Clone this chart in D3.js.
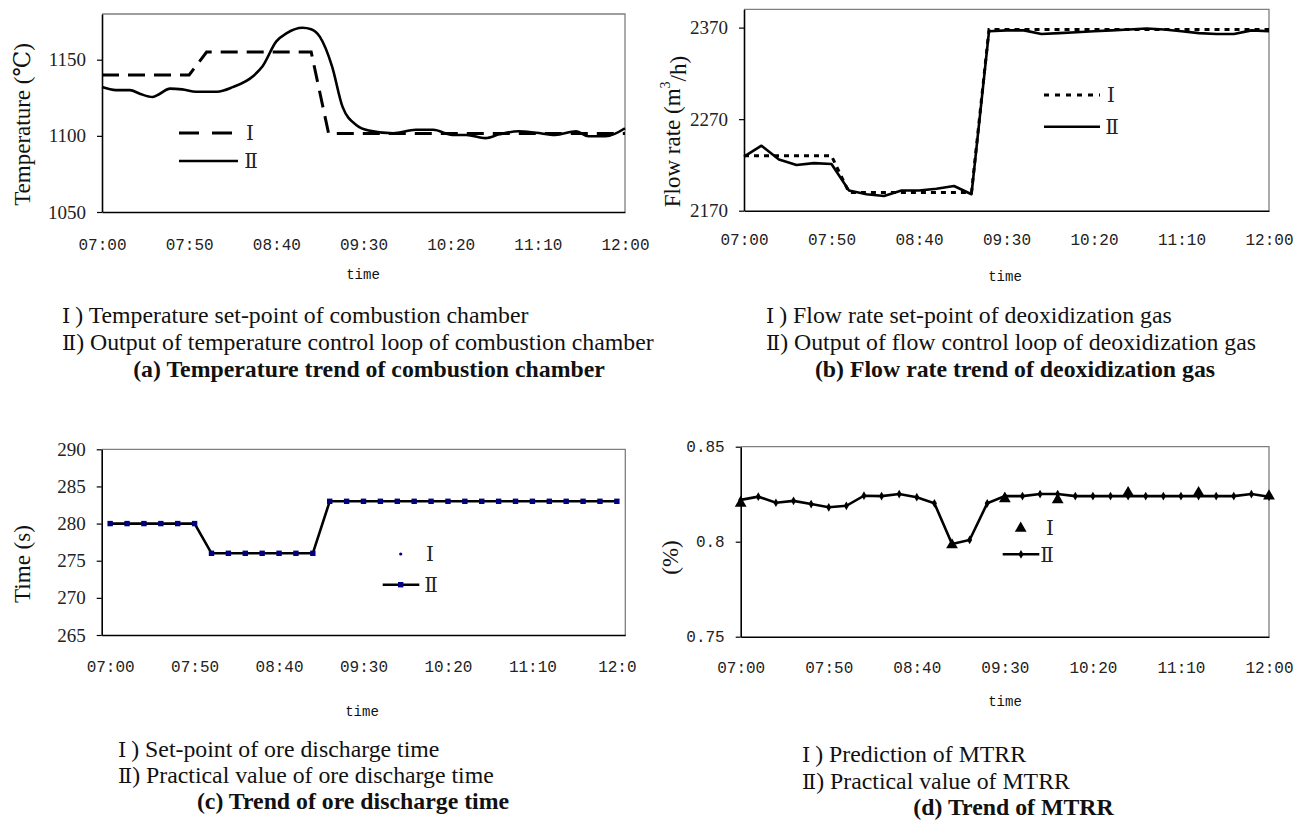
<!DOCTYPE html>
<html><head><meta charset="utf-8">
<script src="https://cdn.jsdelivr.net/npm/d3@7"></script>
<style>body{margin:0;background:#fff}svg{display:block}</style>
</head><body>
<svg id="c" width="1296" height="820"></svg>
<script>
// ---------------- DATA ----------------
// (a) temperature of combustion chamber
const tempOutTimes  = ["07:00","07:08","07:16","07:22","07:29","07:33","07:39","07:46","07:54","08:06","08:15","08:27","08:32","08:40","08:46","08:55","09:00","09:05","09:12","09:18","09:26","09:33","09:47","10:00","10:10","10:21","10:29","10:40","10:48","10:59","11:09","11:20","11:32","11:39","11:49","12:00"];
const tempOutValues = [1132,1130,1130,1127.5,1125.5,1127.5,1131,1130.5,1129,1129,1132,1139.5,1145.5,1162,1167.5,1171,1170,1165,1145.5,1119,1107,1103.5,1101.7,1104,1104,1100.6,1100.6,1098.5,1101,1103,1102,1100.6,1103,1099.7,1099.7,1105];
const tempSetTimes  = ["07:00","07:50","08:00","09:00","09:10","12:00"];
const tempSetValues = [1140,1140,1155,1155,1101.5,1101.5];
const tempTicks = [1050,1100,1150];

// (b) flow rate of deoxidization gas
const flowTimes = ["07:00","07:10","07:20","07:30","07:40","07:50","08:00","08:10","08:20","08:30","08:40","08:50","09:00","09:10","09:20","09:30","09:40","09:50","10:00","10:10","10:20","10:30","10:40","10:50","11:00","11:10","11:20","11:30","11:40","11:50","12:00"];
const flowOutValues = [2229,2241,2226,2220,2222,2221,2192,2188,2186,2192,2192,2194,2197,2188,2366,2367,2367,2363,2364,2365,2366,2367,2368,2369,2368,2366,2364,2363,2363,2367,2366];
const flowSetValues = [2230,2230,2230,2230,2230,2230,2190,2190,2190,2190,2190,2190,2190,2190,2368,2368,2368,2368,2368,2368,2368,2368,2368,2368,2368,2368,2368,2368,2368,2368,2368];
const flowTicks = [2170,2270,2370];

// (c) ore discharge time
const oreTimes = ["07:00","07:10","07:20","07:30","07:40","07:50","08:00","08:10","08:20","08:30","08:40","08:50","09:00","09:10","09:20","09:30","09:40","09:50","10:00","10:10","10:20","10:30","10:40","10:50","11:00","11:10","11:20","11:30","11:40","11:50","12:00"];
const oreSetValues  = [280,280,280,280,280,280,276,276,276,276,276,276,276,283,283,283,283,283,283,283,283,283,283,283,283,283,283,283,283,283,283];
const orePracValues = [280,280,280,280,280,280,276,276,276,276,276,276,276,283,283,283,283,283,283,283,283,283,283,283,283,283,283,283,283,283,283];
const oreTicks = [265,270,275,280,285,290];

// (d) MTRR
const mtrrTimes = oreTimes;
const mtrrPracValues = [0.822,0.8237,0.8205,0.8215,0.8198,0.8181,0.8189,0.8242,0.824,0.8251,0.8234,0.8202,0.7988,0.8009,0.8202,0.824,0.824,0.8251,0.8251,0.824,0.824,0.824,0.824,0.824,0.824,0.824,0.824,0.824,0.824,0.8251,0.8237];
const mtrrPredValues = [0.8202,null,null,null,null,null,null,null,null,null,null,null,0.7983,null,null,0.8226,null,null,0.822,null,null,null,0.8258,null,null,null,0.8258,null,null,null,0.824];
const mtrrTicks = [0.75,0.8,0.85];
const mtrrTickLabels = ["0.75","0.8","0.85"];

// x tick labels
const xTickLabels  = ["07:00","07:50","08:40","09:30","10:20","11:10","12:00"];
const xTickLabelsC = ["07:00","07:50","08:40","09:30","10:20","11:10","12:0"];

// ---------------- DRAWING ----------------
const svg = d3.select("#c");
const serif = "'Liberation Serif','DejaVu Serif',serif";
const mono  = "'Liberation Mono','DejaVu Sans Mono',monospace";
const numFont = "'DejaVu Serif',serif";
const tp = d3.timeParse("%H:%M");
const CAP = 23.8;
const TITLE = 23;

function frame(x0,x1,yTop,yBot){
  svg.append("path").attr("d",`M${x0},${yTop}H${x1}V${yBot}`)
    .attr("fill","none").attr("stroke","#7f7f7f").attr("stroke-width",1.3);
}
function leftAxis(y,x0,ticks,fmt,font,size){
  const g = svg.append("g").attr("transform",`translate(${x0},0)`)
    .call(d3.axisLeft(y).tickValues(ticks).tickSize(5).tickSizeOuter(0).tickPadding(11).tickFormat(fmt));
  g.select(".domain").attr("stroke","#000").attr("stroke-width",1.6);
  g.selectAll(".tick line").attr("stroke","#000").attr("stroke-width",1.2);
  g.selectAll("text").attr("font-family",font).attr("font-size",size).attr("fill","#222");
  return g;
}
function bottomAxis(x,yBot,ticks,fmt,pad){
  const g = svg.append("g").attr("transform",`translate(0,${yBot})`)
    .call(d3.axisBottom(x).tickValues(ticks).tickSize(0).tickSizeOuter(0).tickPadding(pad).tickFormat(fmt));
  g.select(".domain").attr("stroke","#000").attr("stroke-width",1.6);
  g.selectAll("text").attr("font-family",mono).attr("font-size",16).attr("fill","#222");
  return g;
}
function text(x,y,s,opt={}){
  const t = svg.append("text").attr("x",x).attr("y",y).text(s)
    .attr("font-family",opt.font||serif).attr("font-size",opt.size||19)
    .attr("fill",opt.fill||"#111").attr("text-anchor",opt.anchor||"start");
  if(opt.bold) t.attr("font-weight","bold");
  if(opt.rotate) t.attr("transform",`rotate(-90,${x},${y})`);
  return t;
}
function capLine(x,y,num,rest,gap){
  const t = svg.append("text").attr("x",x).attr("y",y)
    .attr("font-family",serif).attr("font-size",CAP).attr("fill","#111");
  t.append("tspan").attr("font-family",numFont).attr("font-size",CAP-3).text(num);
  t.append("tspan").attr("dx",gap).text(") "+rest);
}
function legendNum(x,y,s){ return text(x,y,s,{anchor:"middle",size:20,font:numFont,fill:"#222"}); }

// ===== (a) =====
{
  const x = d3.scaleTime().domain([tp("07:00"),tp("12:00")]).range([102,625]);
  const y = d3.scaleLinear().domain([1050,1180]).range([212,14]);
  frame(102,625,14,212);
  leftAxis(y,102,tempTicks,d3.format("d"),serif,19);
  bottomAxis(x,212,xTickLabels.map(tp),(d,i)=>xTickLabels[i],27);
  const setLine = d3.line().x((d,i)=>x(tp(tempSetTimes[i]))).y(d=>y(d));
  svg.append("path").datum(tempSetValues).attr("d",setLine).attr("fill","none")
    .attr("stroke","#000").attr("stroke-width",3).attr("stroke-dasharray","17,9");
  const outLine = d3.line().x((d,i)=>x(tp(tempOutTimes[i]))).y(d=>y(d)).curve(d3.curveMonotoneX);
  svg.append("path").datum(tempOutValues).attr("d",outLine).attr("fill","none")
    .attr("stroke","#000").attr("stroke-width",2.6);
  svg.append("line").attr("x1",179).attr("x2",233).attr("y1",133).attr("y2",133)
    .attr("stroke","#000").attr("stroke-width",3).attr("stroke-dasharray","20,13");
  legendNum(250,140,"Ⅰ");
  svg.append("line").attr("x1",179).attr("x2",238).attr("y1",161).attr("y2",161)
    .attr("stroke","#000").attr("stroke-width",2.6);
  legendNum(251,168,"Ⅱ");
  text(22,124.5,"Temperature (℃)",{anchor:"middle",rotate:true,size:TITLE}).attr("dy","0.35em");
  text(363,279,"time",{font:mono,size:14,anchor:"middle"});
  capLine(62,323,"Ⅰ","Temperature set-point of combustion chamber",5);
  capLine(62,350,"Ⅱ","Output of temperature control loop of combustion chamber",0);
  text(369,377,"(a) Temperature trend of combustion chamber",{size:CAP,bold:true,anchor:"middle"});
}

// ===== (b) =====
{
  const x = d3.scaleTime().domain([tp("07:00"),tp("12:00")]).range([744,1269]);
  const y = d3.scaleLinear().domain([2170,2390]).range([210.7,9.3]);
  frame(744,1269,9.3,210.7);
  leftAxis(y,744,flowTicks,d3.format("d"),serif,19);
  bottomAxis(x,210.7,xTickLabels.map(tp),(d,i)=>xTickLabels[i],23);
  const setLine = d3.line().x((d,i)=>x(tp(flowTimes[i]))).y(d=>y(d));
  svg.append("path").datum(flowSetValues).attr("d",setLine).attr("fill","none")
    .attr("stroke","#000").attr("stroke-width",3).attr("stroke-dasharray","5,5");
  const outLine = d3.line().x((d,i)=>x(tp(flowTimes[i]))).y(d=>y(d));
  svg.append("path").datum(flowOutValues).attr("d",outLine).attr("fill","none")
    .attr("stroke","#000").attr("stroke-width",2.6).attr("stroke-linejoin","round");
  svg.append("line").attr("x1",1044).attr("x2",1100).attr("y1",95).attr("y2",95)
    .attr("stroke","#000").attr("stroke-width",3).attr("stroke-dasharray","5,6");
  legendNum(1111,102,"Ⅰ");
  svg.append("line").attr("x1",1044).attr("x2",1100).attr("y1",126.7).attr("y2",126.7)
    .attr("stroke","#000").attr("stroke-width",2.6);
  legendNum(1112,134,"Ⅱ");
  const lab = text(672,131.5,"Flow rate (m",{anchor:"middle",rotate:true,size:TITLE}).attr("dy","0.35em");
  lab.append("tspan").attr("font-size",14).attr("dy","-0.7em").text("3");
  lab.append("tspan").attr("dy","0.7em").text("/h)");
  text(1005,281,"time",{font:mono,size:14,anchor:"middle"});
  capLine(766,323,"Ⅰ","Flow rate set-point of deoxidization gas",5);
  capLine(766,350,"Ⅱ","Output of flow control loop of deoxidization gas",0);
  text(1015,377,"(b) Flow rate trend of deoxidization gas",{size:CAP,bold:true,anchor:"middle"});
}

// ===== (c) =====
{
  const x = d3.scalePoint().domain(oreTimes).range([101.7,625.3]).padding(0.5);
  const y = d3.scaleLinear().domain([265,290]).range([635,449.3]);
  frame(101.7,625.3,449.3,635);
  leftAxis(y,101.7,oreTicks,d3.format("d"),serif,19);
  bottomAxis(x,635,xTickLabels,(d,i)=>xTickLabelsC[i],25.7);
  const line = d3.line().x((d,i)=>x(oreTimes[i])).y(d=>y(d));
  svg.append("path").datum(orePracValues).attr("d",line).attr("fill","none")
    .attr("stroke","#000").attr("stroke-width",2.6);
  svg.append("g").selectAll("rect").data(orePracValues).join("rect")
    .attr("x",(d,i)=>x(oreTimes[i])-2.7).attr("y",d=>y(d)-2.7).attr("width",5.4).attr("height",5.4)
    .attr("fill","#000080");
  svg.append("g").selectAll("circle").data(oreSetValues).join("circle")
    .attr("cx",(d,i)=>x(oreTimes[i])).attr("cy",d=>y(d)).attr("r",1.4).attr("fill","#000080");
  svg.append("circle").attr("cx",400.7).attr("cy",554).attr("r",1.6).attr("fill","#000080");
  legendNum(430,561,"Ⅰ");
  svg.append("line").attr("x1",382.7).attr("x2",419.3).attr("y1",584.7).attr("y2",584.7)
    .attr("stroke","#000").attr("stroke-width",2.6);
  svg.append("rect").attr("x",398).attr("y",582).attr("width",5.4).attr("height",5.4).attr("fill","#000080");
  legendNum(431,592,"Ⅱ");
  text(22,564,"Time (s)",{anchor:"middle",rotate:true,size:TITLE}).attr("dy","0.35em");
  text(362,716,"time",{font:mono,size:14,anchor:"middle"});
  capLine(118,757,"Ⅰ","Set-point of ore discharge time",5);
  capLine(118,783,"Ⅱ","Practical value of ore discharge time",0);
  text(353,809,"(c) Trend of ore discharge time",{size:CAP,bold:true,anchor:"middle"});
}

// ===== (d) =====
{
  const x = d3.scalePoint().domain(mtrrTimes).range([740.7,1269]).padding(0);
  const y = d3.scaleLinear().domain([0.75,0.85]).range([636.7,446.7]);
  frame(740.7,1269,446.7,636.7);
  leftAxis(y,740.7,mtrrTicks,(d,i)=>mtrrTickLabels[i],mono,16);
  bottomAxis(x,636.7,xTickLabels,(d,i)=>xTickLabels[i],25);
  const line = d3.line().x((d,i)=>x(mtrrTimes[i])).y(d=>y(d));
  svg.append("path").datum(mtrrPracValues).attr("d",line).attr("fill","none")
    .attr("stroke","#000").attr("stroke-width",2.6);
  const dia = d3.symbol().type(d3.symbolDiamond).size(22);
  svg.append("g").selectAll("path").data(mtrrPracValues).join("path")
    .attr("transform",(d,i)=>`translate(${x(mtrrTimes[i])},${y(d)})`).attr("d",dia).attr("fill","#000");
  const tri = d3.symbol().type(d3.symbolTriangle).size(60);
  svg.append("g").selectAll("path").data(mtrrPredValues.map((v,i)=>[i,v]).filter(d=>d[1]!=null)).join("path")
    .attr("transform",d=>`translate(${x(mtrrTimes[d[0]])},${y(d[1])})`).attr("d",tri).attr("fill","#000");
  svg.append("path").attr("transform","translate(1020.7,528.3)").attr("d",tri).attr("fill","#000");
  legendNum(1050,535,"Ⅰ");
  svg.append("line").attr("x1",1002.7).attr("x2",1039.3).attr("y1",554.3).attr("y2",554.3)
    .attr("stroke","#000").attr("stroke-width",2.6);
  svg.append("path").attr("transform","translate(1021,554.3)").attr("d",dia).attr("fill","#000");
  legendNum(1047,562,"Ⅱ");
  text(670,557.5,"(%)",{anchor:"middle",rotate:true,size:TITLE}).attr("dy","0.35em");
  text(1005,706,"time",{font:mono,size:14,anchor:"middle"});
  capLine(802,762,"Ⅰ","Prediction of MTRR",5);
  capLine(802,789,"Ⅱ","Practical value of MTRR",0);
  text(1013.5,815,"(d) Trend of MTRR",{size:CAP,bold:true,anchor:"middle"});
}
</script>
</body></html>
